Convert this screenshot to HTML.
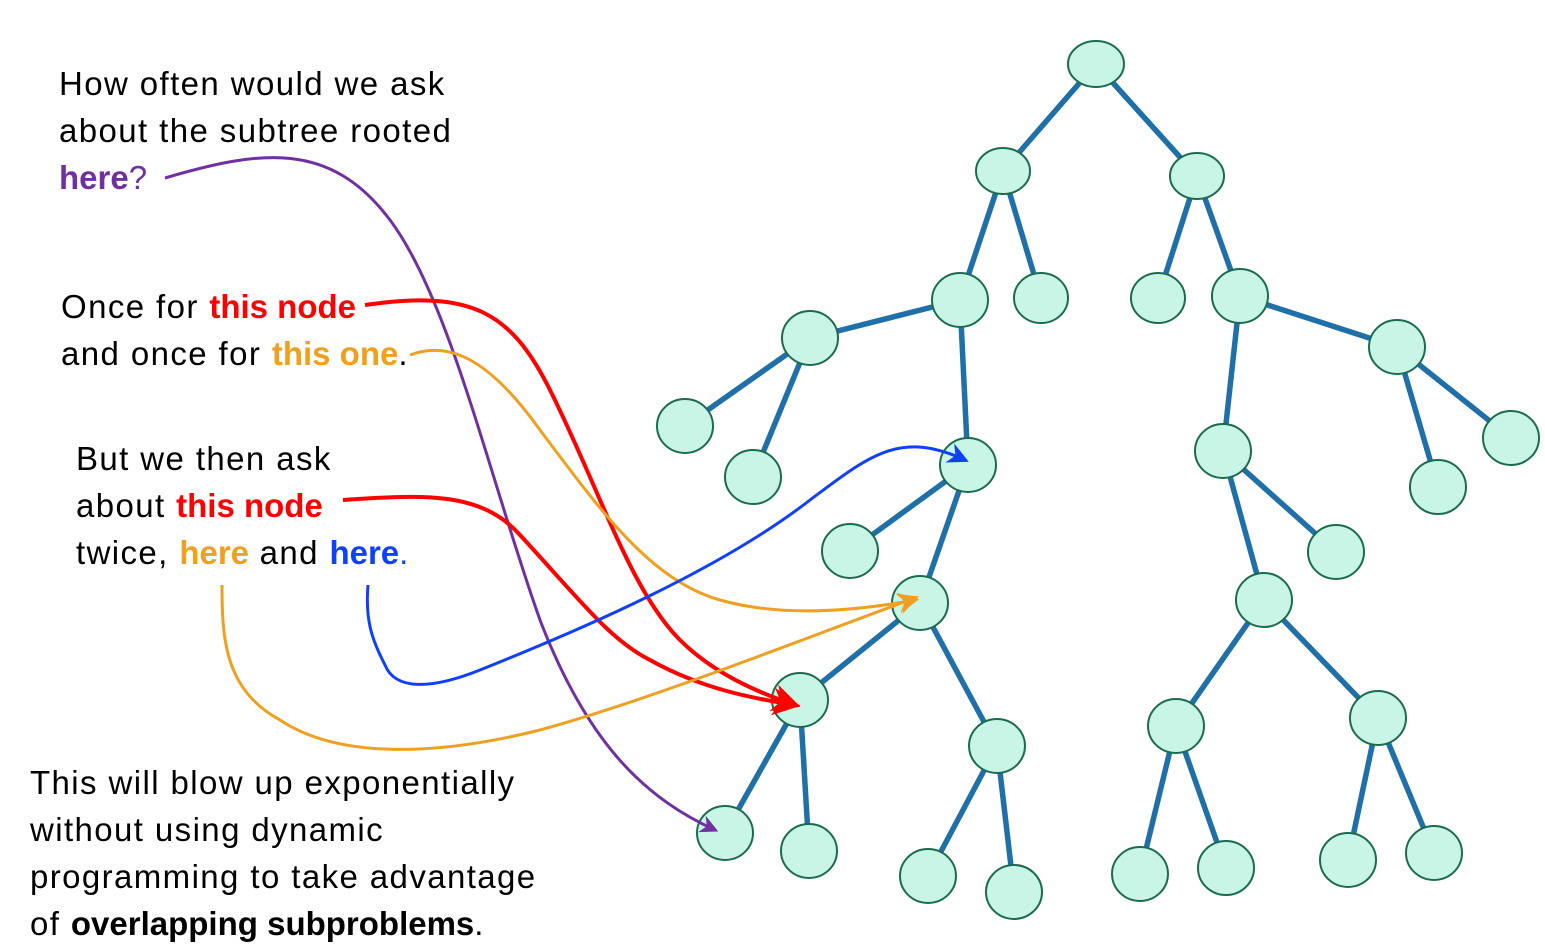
<!DOCTYPE html>
<html><head><meta charset="utf-8"><style>
html,body{margin:0;padding:0;background:#fff;width:1545px;height:939px;overflow:hidden}
svg{position:absolute;left:0;top:0}
.t{position:absolute;font-family:"Liberation Sans",sans-serif;font-size:33px;letter-spacing:1.4px;line-height:47px;color:#000;white-space:nowrap}
b{font-weight:bold;letter-spacing:0px}
</style></head><body>
<svg width="1545" height="939" viewBox="0 0 1545 939">
<defs>
<marker id="mp" viewBox="0 0 10 10" refX="8" refY="5" markerWidth="6" markerHeight="6" orient="auto"><path d="M0,0 L10,5 L0,10 L3,5 Z" fill="#7030a0"/></marker>
<marker id="mr" viewBox="0 0 10 10" refX="8" refY="5" markerWidth="7" markerHeight="7" orient="auto"><path d="M0,0 L10,5 L0,10 L3,5 Z" fill="#f00"/></marker>
<marker id="mo" viewBox="0 0 10 10" refX="8" refY="5" markerWidth="7" markerHeight="7" orient="auto"><path d="M0,0 L10,5 L0,10 L3,5 Z" fill="#f0a020"/></marker>
<marker id="mb" viewBox="0 0 10 10" refX="8" refY="5" markerWidth="7" markerHeight="7" orient="auto"><path d="M0,0 L10,5 L0,10 L3,5 Z" fill="#1040ff"/></marker>
</defs>
<g stroke="#1f6fa8" stroke-width="5.5" fill="none">
<line x1="1096" y1="64" x2="1003" y2="171"/><line x1="1096" y1="64" x2="1197" y2="176"/>
<line x1="1003" y1="171" x2="960" y2="300"/><line x1="1003" y1="171" x2="1041" y2="298"/>
<line x1="1197" y1="176" x2="1158" y2="298"/><line x1="1197" y1="176" x2="1240" y2="296"/>
<line x1="960" y1="300" x2="810" y2="338"/><line x1="810" y1="338" x2="685" y2="426"/><line x1="810" y1="338" x2="753" y2="477"/>
<line x1="960" y1="300" x2="968" y2="465"/><line x1="968" y1="465" x2="850" y2="551"/><line x1="968" y1="465" x2="920" y2="603"/>
<line x1="920" y1="603" x2="800" y2="700"/><line x1="920" y1="603" x2="997" y2="746"/>
<line x1="800" y1="700" x2="725" y2="833"/><line x1="800" y1="700" x2="809" y2="851"/>
<line x1="997" y1="746" x2="928" y2="876"/><line x1="997" y1="746" x2="1014" y2="892"/>
<line x1="1240" y1="296" x2="1397" y2="347"/><line x1="1240" y1="296" x2="1223" y2="451"/>
<line x1="1397" y1="347" x2="1511" y2="438"/><line x1="1397" y1="347" x2="1438" y2="487"/>
<line x1="1223" y1="451" x2="1336" y2="552"/><line x1="1223" y1="451" x2="1264" y2="600"/>
<line x1="1264" y1="600" x2="1176" y2="726"/><line x1="1264" y1="600" x2="1378" y2="718"/>
<line x1="1176" y1="726" x2="1140" y2="874"/><line x1="1176" y1="726" x2="1226" y2="868"/>
<line x1="1378" y1="718" x2="1348" y2="860"/><line x1="1378" y1="718" x2="1434" y2="853"/>
</g>
<g fill="#c8f5e6" stroke="#1b6b4f" stroke-width="2">
<ellipse cx="1096" cy="64" rx="28" ry="23"/>
<ellipse cx="1003" cy="171" rx="27" ry="23"/><ellipse cx="1197" cy="176" rx="27" ry="23"/>
<ellipse cx="960" cy="300" rx="28" ry="27"/><ellipse cx="1041" cy="298" rx="27" ry="25"/><ellipse cx="1158" cy="298" rx="27" ry="25"/><ellipse cx="1240" cy="296" rx="28" ry="27"/>
<ellipse cx="810" cy="338" rx="28" ry="27"/><ellipse cx="1397" cy="347" rx="28" ry="27"/>
<ellipse cx="685" cy="426" rx="28" ry="27"/><ellipse cx="753" cy="477" rx="28" ry="27"/><ellipse cx="968" cy="465" rx="28" ry="27"/><ellipse cx="1223" cy="451" rx="28" ry="27"/><ellipse cx="1511" cy="438" rx="28" ry="27"/><ellipse cx="1438" cy="487" rx="28" ry="27"/>
<ellipse cx="850" cy="551" rx="28" ry="27"/><ellipse cx="1336" cy="552" rx="28" ry="27"/>
<ellipse cx="920" cy="603" rx="28" ry="27"/><ellipse cx="1264" cy="600" rx="28" ry="27"/>
<ellipse cx="800" cy="700" rx="28" ry="27"/><ellipse cx="997" cy="746" rx="28" ry="27"/><ellipse cx="1176" cy="726" rx="28" ry="27"/><ellipse cx="1378" cy="718" rx="28" ry="27"/>
<ellipse cx="725" cy="833" rx="28" ry="27"/><ellipse cx="809" cy="851" rx="28" ry="27"/><ellipse cx="928" cy="876" rx="28" ry="27"/><ellipse cx="1014" cy="892" rx="28" ry="27"/><ellipse cx="1140" cy="874" rx="28" ry="27"/><ellipse cx="1226" cy="868" rx="28" ry="27"/><ellipse cx="1348" cy="860" rx="28" ry="27"/><ellipse cx="1434" cy="853" rx="28" ry="27"/>
</g>
<g fill="none" stroke-width="3">
<path d="M165,178 C260,150 330,140 390,220 C450,300 490,480 540,620 C590,750 650,800 715,830" stroke="#7030a0" marker-end="url(#mp)"/>
<path d="M365,305 C470,290 510,310 550,390 C600,490 630,590 680,640 C710,670 750,690 795,705" stroke="#f00" stroke-width="4" marker-end="url(#mr)"/>
<path d="M410,355 C450,340 490,360 540,430 C600,510 650,580 720,600 C780,617 850,612 915,600" stroke="#f0a020" marker-end="url(#mo)"/>
<path d="M343,500 C420,495 480,490 520,535 C580,600 610,640 650,660 C700,688 750,698 795,705" stroke="#f00" stroke-width="4" marker-end="url(#mr)"/>
<path d="M368,585 C365,620 372,640 385,665 C395,690 430,690 480,670 C580,630 720,570 810,500 C870,455 900,430 965,460" stroke="#1040ff" marker-end="url(#mb)"/>
<path d="M222,585 C222,640 225,690 280,720 C340,760 440,755 540,730 C650,700 800,640 915,598" stroke="#f0a020" marker-end="url(#mo)"/>
</g>
</svg>
<div class="t" style="left:59px;top:60px">How often would we ask<br>about the subtree rooted<br><b style="color:#7030a0">here</b><span style="color:#7030a0">?</span></div>
<div class="t" style="left:61px;top:283px">Once for <b style="color:#f00">this node</b><br>and once for <b style="color:#f0a020">this one</b>.</div>
<div class="t" style="left:76px;top:435px">But we then ask<br>about <b style="color:#f00">this node</b><br>twice, <b style="color:#f0a020">here</b> and <b style="color:#1040ff">here</b><span style="color:#1040ff">.</span></div>
<div class="t" style="left:30px;top:759px">This will blow up exponentially<br>without using dynamic<br>programming to take advantage<br>of <b>overlapping subproblems</b>.</div>
</body></html>
